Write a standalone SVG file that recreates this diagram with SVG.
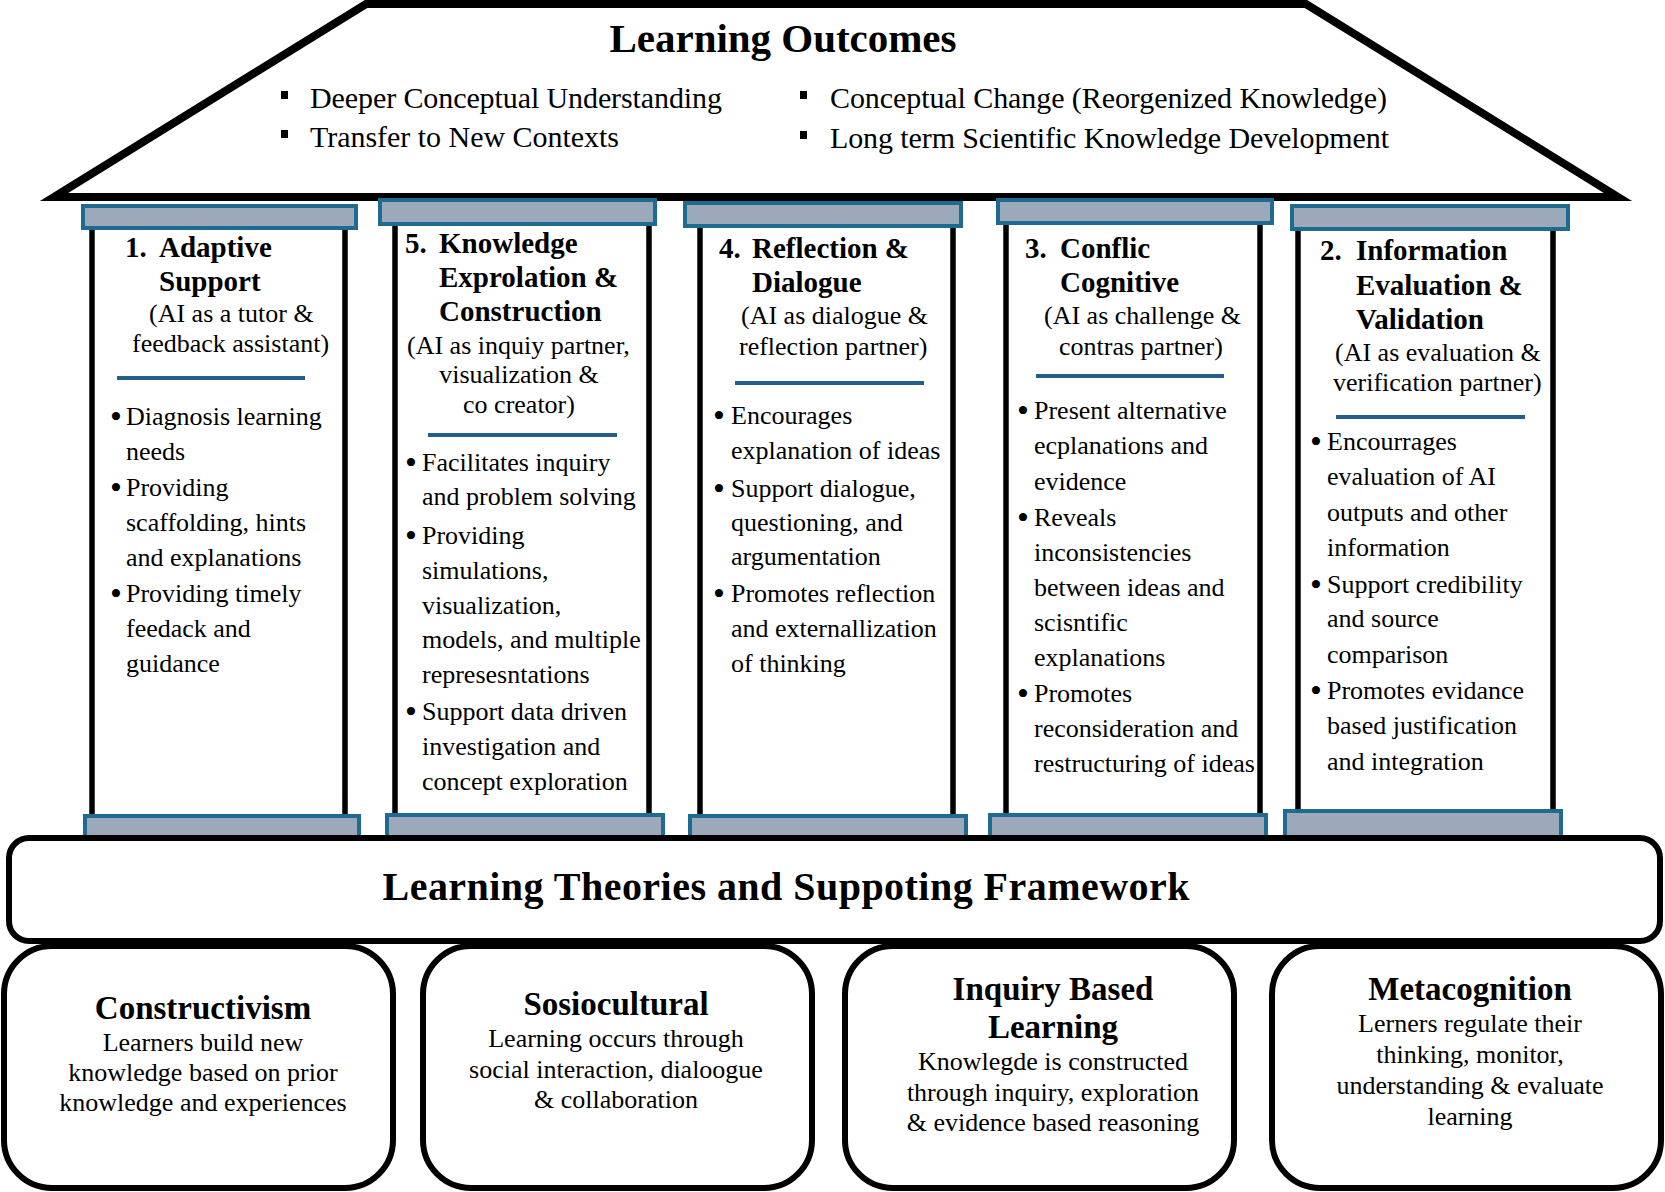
<svg xmlns="http://www.w3.org/2000/svg" width="1665" height="1192" viewBox="0 0 1665 1192">
<style>
text{font-family:"Liberation Serif","Times New Roman",serif;fill:#000}
.t{font-size:41px;font-weight:bold}
.ro{font-size:30px}
.h{font-size:29px;font-weight:bold}
.p{font-size:26px}
.b{font-size:26px}
.d{font-size:34px}
.bt{font-size:33px;font-weight:bold}
.bb{font-size:26px}
.cap{fill:#9ca9bb;stroke:#1f6a90;stroke-width:4}
.shaft{stroke:#000;stroke-width:5.5}
.sep{stroke:#245f8c;stroke-width:4}
.box{fill:#fff;stroke:#000;stroke-width:6}
.sq{fill:#000}
</style>
<rect width="1665" height="1192" fill="#fff"/>

<g id="roof">
<polygon points="366,4 1306,4 1618,197 54,197" fill="#fff" stroke="#000" stroke-width="8" stroke-linejoin="miter" stroke-miterlimit="10"/>
<text class="t" x="783" y="52" text-anchor="middle" textLength="347">Learning Outcomes</text>
<rect class="sq" x="281" y="91" width="7" height="8"/>
<text class="ro" x="310" y="108" textLength="412">Deeper Conceptual Understanding</text>
<rect class="sq" x="281" y="130" width="7" height="8"/>
<text class="ro" x="310" y="147" textLength="309">Transfer to New Contexts</text>
<rect class="sq" x="800" y="91" width="7" height="8"/>
<text class="ro" x="830" y="108" textLength="557">Conceptual Change (Reorgenized Knowledge)</text>
<rect class="sq" x="800" y="131" width="7" height="8"/>
<text class="ro" x="830" y="148" textLength="559">Long term Scientific Knowledge Development</text>
</g>

<g id="pillar1">
<line class="shaft" x1="92" y1="228" x2="92" y2="815"/>
<line class="shaft" x1="345" y1="228" x2="345" y2="815"/>
<rect class="cap" x="83" y="206" width="273" height="22"/>
<rect class="cap" x="85" y="816" width="274" height="22"/>
<text class="h" x="125" y="257">1.</text><text class="h" x="159" y="257">Adaptive</text>
<text class="h" x="159" y="291">Support</text>
<text class="p" x="149" y="322">(AI as a tutor &amp;</text>
<text class="p" x="132" y="352">feedback assistant)</text>
<line class="sep" x1="117" y1="378" x2="305" y2="378"/>
<g class="b">
<text class="d" x="110" y="428">•</text><text x="126" y="425">Diagnosis learning</text>
<text x="126" y="460">needs</text>
<text class="d" x="110" y="499">•</text><text x="126" y="496">Providing</text>
<text x="126" y="531">scaffolding, hints</text>
<text x="126" y="566">and explanations</text>
<text class="d" x="110" y="605">•</text><text x="126" y="602">Providing timely</text>
<text x="126" y="637">feedack and</text>
<text x="126" y="672">guidance</text>
</g>
</g>

<g id="pillar5">
<line class="shaft" x1="395" y1="224" x2="395" y2="815"/>
<line class="shaft" x1="649" y1="224" x2="649" y2="815"/>
<rect class="cap" x="380" y="200" width="275" height="24"/>
<rect class="cap" x="387" y="815" width="276" height="23"/>
<text class="h" x="405" y="253">5.</text><text class="h" x="439" y="253">Knowledge</text>
<text class="h" x="439" y="287">Exprolation &amp;</text>
<text class="h" x="439" y="321">Construction</text>
<text class="p" x="407" y="354">(AI as inquiy partner,</text>
<text class="p" x="519" y="383" text-anchor="middle">visualization &amp;</text>
<text class="p" x="519" y="413" text-anchor="middle">co creator)</text>
<line class="sep" x1="428" y1="435" x2="617" y2="435"/>
<g class="b">
<text class="d" x="405" y="474">•</text><text x="422" y="471">Facilitates inquiry</text>
<text x="422" y="505">and problem solving</text>
<text class="d" x="405" y="547">•</text><text x="422" y="544">Providing</text>
<text x="422" y="579">simulations,</text>
<text x="422" y="614">visualization,</text>
<text x="422" y="648">models, and multiple</text>
<text x="422" y="683">represesntations</text>
<text class="d" x="405" y="723">•</text><text x="422" y="720">Support data driven</text>
<text x="422" y="755">investigation and</text>
<text x="422" y="790">concept exploration</text>
</g>
</g>

<g id="pillar4">
<line class="shaft" x1="700" y1="226" x2="700" y2="815"/>
<line class="shaft" x1="953" y1="226" x2="953" y2="815"/>
<rect class="cap" x="685" y="203" width="276" height="23"/>
<rect class="cap" x="690" y="816" width="276" height="22"/>
<text class="h" x="719" y="258">4.</text><text class="h" x="752" y="258">Reflection &amp;</text>
<text class="h" x="752" y="292">Dialogue</text>
<text class="p" x="741" y="324">(AI as dialogue &amp;</text>
<text class="p" x="739" y="355">reflection partner)</text>
<line class="sep" x1="735" y1="383" x2="924" y2="383"/>
<g class="b">
<text class="d" x="713" y="427">•</text><text x="731" y="424">Encourages</text>
<text x="731" y="459">explanation of ideas</text>
<text class="d" x="713" y="500">•</text><text x="731" y="497">Support dialogue,</text>
<text x="731" y="531">questioning, and</text>
<text x="731" y="565">argumentation</text>
<text class="d" x="713" y="605">•</text><text x="731" y="602">Promotes reflection</text>
<text x="731" y="637">and externallization</text>
<text x="731" y="672">of thinking</text>
</g>
</g>

<g id="pillar3">
<line class="shaft" x1="1006" y1="223" x2="1006" y2="815"/>
<line class="shaft" x1="1260" y1="223" x2="1260" y2="815"/>
<rect class="cap" x="998" y="200" width="274" height="23"/>
<rect class="cap" x="990" y="815" width="276" height="23"/>
<text class="h" x="1025" y="258">3.</text><text class="h" x="1060" y="258">Conflic</text>
<text class="h" x="1060" y="292">Cognitive</text>
<text class="p" x="1044" y="324">(AI as challenge &amp;</text>
<text class="p" x="1059" y="355">contras partner)</text>
<line class="sep" x1="1036" y1="376" x2="1224" y2="376"/>
<g class="b">
<text class="d" x="1017" y="422">•</text><text x="1034" y="419">Present alternative</text>
<text x="1034" y="454">ecplanations and</text>
<text x="1034" y="490">evidence</text>
<text class="d" x="1017" y="529">•</text><text x="1034" y="526">Reveals</text>
<text x="1034" y="561">inconsistencies</text>
<text x="1034" y="596">between ideas and</text>
<text x="1034" y="631">scisntific</text>
<text x="1034" y="666">explanations</text>
<text class="d" x="1017" y="705">•</text><text x="1034" y="702">Promotes</text>
<text x="1034" y="737">reconsideration and</text>
<text x="1034" y="772">restructuring of ideas</text>
</g>
</g>

<g id="pillar2">
<line class="shaft" x1="1298" y1="229" x2="1298" y2="811"/>
<line class="shaft" x1="1553" y1="229" x2="1553" y2="811"/>
<rect class="cap" x="1292" y="206" width="276" height="23"/>
<rect class="cap" x="1285" y="811" width="276" height="27"/>
<text class="h" x="1320" y="260">2.</text><text class="h" x="1356" y="260">Information</text>
<text class="h" x="1356" y="295">Evaluation &amp;</text>
<text class="h" x="1356" y="329">Validation</text>
<text class="p" x="1335" y="361">(AI as evaluation &amp;</text>
<text class="p" x="1333" y="391">verification partner)</text>
<line class="sep" x1="1336" y1="417" x2="1525" y2="417"/>
<g class="b">
<text class="d" x="1310" y="453">•</text><text x="1327" y="450">Encourrages</text>
<text x="1327" y="485">evaluation of AI</text>
<text x="1327" y="521">outputs and other</text>
<text x="1327" y="556">information</text>
<text class="d" x="1310" y="596">•</text><text x="1327" y="593">Support credibility</text>
<text x="1327" y="627">and source</text>
<text x="1327" y="663">comparison</text>
<text class="d" x="1310" y="702">•</text><text x="1327" y="699">Promotes evidance</text>
<text x="1327" y="734">based justification</text>
<text x="1327" y="770">and integration</text>
</g>
</g>

<g id="foundation">
<rect class="box" x="9" y="838" width="1651" height="103" rx="20" ry="20"/>
<text class="t" x="786" y="900" text-anchor="middle" textLength="807" style="font-size:40px">Learning Theories and Suppoting Framework</text>
</g>

<g id="constructivism">
<rect class="box" x="4" y="946" width="389" height="242" rx="48" ry="48"/>
<text class="bt" x="203" y="1019" text-anchor="middle">Constructivism</text>
<text class="bb" x="203" y="1051" text-anchor="middle">Learners build new</text>
<text class="bb" x="203" y="1081" text-anchor="middle">knowledge based on prior</text>
<text class="bb" x="203" y="1111" text-anchor="middle">knowledge and experiences</text>
</g>

<g id="sosiocultural">
<rect class="box" x="423" y="946" width="389" height="242" rx="48" ry="48"/>
<text class="bt" x="616" y="1015" text-anchor="middle">Sosiocultural</text>
<text class="bb" x="616" y="1047" text-anchor="middle">Learning occurs through</text>
<text class="bb" x="616" y="1078" text-anchor="middle">social interaction, dialoogue</text>
<text class="bb" x="616" y="1108" text-anchor="middle">&amp; collaboration</text>
</g>

<g id="inquiry">
<rect class="box" x="845" y="946" width="389" height="242" rx="48" ry="48"/>
<text class="bt" x="1053" y="1000" text-anchor="middle">Inquiry Based</text>
<text class="bt" x="1053" y="1038" text-anchor="middle">Learning</text>
<text class="bb" x="1053" y="1070" text-anchor="middle">Knowlegde is constructed</text>
<text class="bb" x="1053" y="1101" text-anchor="middle">through inquiry, exploration</text>
<text class="bb" x="1053" y="1131" text-anchor="middle">&amp; evidence based reasoning</text>
</g>

<g id="metacognition">
<rect class="box" x="1272" y="946" width="389" height="242" rx="48" ry="48"/>
<text class="bt" x="1470" y="1000" text-anchor="middle">Metacognition</text>
<text class="bb" x="1470" y="1032" text-anchor="middle">Lerners regulate their</text>
<text class="bb" x="1470" y="1063" text-anchor="middle">thinking, monitor,</text>
<text class="bb" x="1470" y="1094" text-anchor="middle">understanding &amp; evaluate</text>
<text class="bb" x="1470" y="1125" text-anchor="middle">learning</text>
</g>
</svg>
